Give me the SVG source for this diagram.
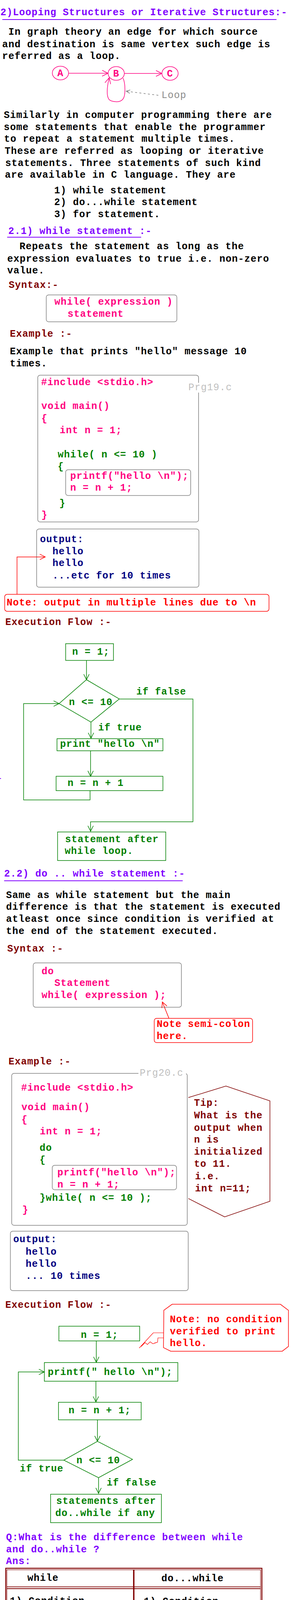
<svg xmlns="http://www.w3.org/2000/svg" width="759" height="7632" viewBox="0 0 759 7632">
<style>
text{font-family:"Liberation Mono","DejaVu Sans Mono",monospace;font-size:25px;letter-spacing:1px;font-weight:bold;white-space:pre}
.n{font-weight:normal}
.pu{fill:#8000ff}.pk{fill:#ff0080}.dr{fill:#800000}.gr{fill:#008000}.nv{fill:#000080}.bk{fill:#000}.rd{fill:#ff0000}.gy{fill:#8c8c8c}.lg{fill:#c0c0c0}.db{fill:#0b3b82}
.box{fill:none;stroke:#808080;stroke-width:1.5}
.lbox{fill:none;stroke:#c0c0c0;stroke-width:1.5}
.gbox{fill:none;stroke:#008000;stroke-width:1.5}
.rbox{fill:none;stroke:#ff0000;stroke-width:1.5}
.gl{fill:none;stroke:#008000;stroke-width:1.5}
.rl{fill:none;stroke:#ff0000;stroke-width:1.5}
.pl{fill:none;stroke:#ff0080;stroke-width:1.5}
.gyl{fill:none;stroke:#808080;stroke-width:1.5}
.ul{stroke:#8000ff;stroke-width:2}
.drl{fill:none;stroke:#800000}
</style>
<defs>
<marker id="ag" markerUnits="userSpaceOnUse" markerWidth="20" markerHeight="20" refX="14" refY="7" orient="auto" overflow="visible"><path d="M0,0 L14,7 L0,14" fill="none" stroke="#008000" stroke-width="1.5"/></marker>
<marker id="ar" markerUnits="userSpaceOnUse" markerWidth="20" markerHeight="20" refX="14" refY="7" orient="auto" overflow="visible"><path d="M0,0 L14,7 L0,14" fill="none" stroke="#ff0000" stroke-width="1.5"/></marker>
<marker id="ap" markerUnits="userSpaceOnUse" markerWidth="20" markerHeight="20" refX="15" refY="7.5" orient="auto" overflow="visible"><path d="M0,0 L15,7.5 L0,15" fill="none" stroke="#ff0080" stroke-width="1.5"/></marker>
<marker id="ay" markerUnits="userSpaceOnUse" markerWidth="20" markerHeight="20" refX="14" refY="7" orient="auto" overflow="visible"><path d="M0,0 L14,7 L0,14" fill="none" stroke="#808080" stroke-width="1.5"/></marker>
<marker id="ay2" markerUnits="userSpaceOnUse" markerWidth="14" markerHeight="14" refX="10" refY="4.5" orient="auto" overflow="visible"><path d="M0,0 L10,4.5 L0,9" fill="none" stroke="#808080" stroke-width="1.5"/></marker>
</defs>
<rect width="759" height="7632" fill="#fff"/>

<g id="intro">
<text x="1" y="39" class="pu">2)Looping Structures or Iterative Structures:-</text>
<line x1="6" y1="50" x2="709" y2="50" class="ul"/>
<text x="5.5" y="89" class="bk"> In graph theory an edge for which source</text>
<text x="5.5" y="120.5" class="bk">and destination is same vertex such edge is</text>
<text x="5.5" y="151" class="bk">referred as a loop.</text>
</g>

<g id="node-A"><ellipse cx="155" cy="187" rx="20.8" ry="17.5" class="pl"/><text x="155" y="195" class="pk" text-anchor="middle">A</text></g>
<g id="node-B"><ellipse cx="298" cy="188" rx="20.8" ry="17.5" class="pl"/><text x="298" y="196" class="pk" text-anchor="middle">B</text></g>
<g id="node-C"><ellipse cx="436" cy="188" rx="20.8" ry="17.5" class="pl"/><text x="436" y="196" class="pk" text-anchor="middle">C</text></g>
<g id="loop-label"><text x="414" y="251" class="gy n">Loop</text></g>

<g id="text-1">
<text x="9.7" y="302" class="bk">Similarly in computer programming there are</text>
<text x="9.7" y="333" class="bk">some statements that enable the programmer</text>
<text x="10.6" y="363" class="bk">to repeat a statement multiple times.</text>
<text x="12" y="394" class="bk">These<tspan dx="-7"> are referred as looping or iterative</tspan></text>
<text x="13.5" y="424.5" class="bk">statements. Three statements of such kind</text>
<text x="12.6" y="455" class="bk">are available in C language. They are</text>
<text x="139" y="494.7" class="bk">1) while statement</text>
<text x="139" y="525.3" class="bk">2) do...while statement</text>
<text x="139" y="556" class="bk">3) for statement.</text>
</g>

<g id="while-section">
<text x="21.3" y="599" class="pu">2.1) while statement :-</text>
<line x1="18.4" y1="607.3" x2="362" y2="607.3" class="ul"/>
<text x="50" y="637.6" class="bk">Repeats the statement as long as the</text>
<text x="18.4" y="669.8" class="bk">expression evaluates to true i.e. non-zero</text>
<text x="18.4" y="700.4" class="bk">value.</text>
<text x="22.3" y="737" class="dr">Syntax:-</text>
</g>
<g id="syntax-while">
<rect x="118.6" y="755" width="334.9" height="68.7" rx="6" class="box"/>
<text x="139.4" y="780" class="pk">while( expression )</text>
<text x="173.3" y="810.6" class="pk">statement</text>
</g>
<g id="example-while-text">
<text x="25.2" y="862.4" class="dr">Example :-</text>
<text x="25.2" y="907.3" class="bk">Example that prints "hello" message 10</text>
<text x="25.2" y="938" class="bk">times.</text>
</g>
<g id="code-prg19">
<rect x="96.8" y="960.4" width="412.4" height="375.9" rx="6" class="box"/>
<rect x="481" y="980" width="118" height="25" fill="#fff"/>
<text x="483" y="999.2" class="lg n">Prg19.c</text>
<text x="105.5" y="986" class="pk">#include &lt;stdio.h&gt;</text>
<text x="106" y="1047.3" class="pk">void main()</text>
<text x="106" y="1078.8" class="pk">{</text>
<text x="153" y="1109.4" class="pk">int n = 1;</text>
<text x="148" y="1170.6" class="gr">while( n &lt;= 10 )</text>
<text x="148" y="1202.4" class="gr">{</text>
<rect x="168.4" y="1202.4" width="320.5" height="66.2" rx="6" class="box"/>
<text x="180" y="1225.7" class="pk">printf("hello \n");</text>
<text x="180" y="1256.3" class="pk">n = n + 1;</text>
<text x="152" y="1295.5" class="gr">}</text>
<text x="106" y="1326" class="pk">}</text>
</g>
<g id="output-1">
<rect x="93.9" y="1354.3" width="416.1" height="149" rx="6" class="box"/>
<text x="102.6" y="1388.2" class="nv">output:</text>
<text x="134.6" y="1418.8" class="nv">hello</text>
<text x="134.6" y="1449.4" class="nv">hello</text>
<text x="134.6" y="1481.2" class="nv">...etc for 10 times</text>
</g>
<g id="note-1">
<rect x="12.1" y="1521.6" width="677.6" height="43.3" rx="6" class="rbox"/>
<text x="17" y="1550.2" class="rd">Note: output in multiple lines due to \n</text>
</g>
<g id="flow1-label"><text x="13.6" y="1599.6" class="dr">Execution Flow :-</text></g>
<g id="f1-init"><rect x="168.4" y="1647.8" width="122.5" height="42.8" class="gbox"/><text x="184.9" y="1675.9" class="gr">n = 1;</text></g>
<g id="f1-cond"><polygon points="221.7,1740 305.9,1789.4 233.3,1848.6 151.5,1801.2" class="gl"/><text x="176.7" y="1804.5" class="gr">n &lt;= 10</text></g>
<g id="f1-labels"><text x="349.5" y="1778" class="gr">if false</text><text x="251.7" y="1869.8" class="gr">if true</text></g>
<g id="f1-print"><rect x="146.2" y="1891" width="271.5" height="31" class="gbox"/><text x="154" y="1911.8" class="gr">print "hello \n"</text></g>
<g id="f1-inc"><rect x="143.8" y="1987.3" width="273.9" height="36.7" class="gbox"/><text x="173.3" y="2011.8" class="gr">n = n + 1</text></g>
<g id="f1-after"><rect x="147.6" y="2129.8" width="277.4" height="73.1" class="gbox"/><text x="167" y="2155.9" class="gr">statement after</text><text x="166" y="2186.1" class="gr">while loop.</text></g>

<g id="dowhile-section">
<text x="10.6" y="2243.7" class="pu">2.2) do .. while statement :-</text>
<line x1="10.6" y1="2254.7" x2="468.5" y2="2254.7" class="ul"/>
<text x="15.5" y="2298.8" class="bk">Same as while statement but the main</text>
<text x="15.5" y="2329.4" class="bk">difference is that the statement is executed</text>
<text x="15.5" y="2360" class="bk">atleast once since condition is verified at</text>
<text x="15.5" y="2391.4" class="bk">the end of the statement executed.</text>
<text x="18.4" y="2436.3" class="dr">Syntax :-</text>
</g>
<g id="syntax-dowhile">
<rect x="85.2" y="2464.9" width="380" height="113.5" rx="6" class="box"/>
<text x="106.5" y="2493.5" class="pk">do</text>
<text x="139.4" y="2524.1" class="pk">Statement</text>
<text x="106.5" y="2554.7" class="pk">while( expression );</text>
</g>
<g id="note-semicolon">
<rect x="395.5" y="2606.9" width="252.1" height="62.1" rx="6" class="rbox"/>
<text x="401.7" y="2629.4" class="rd">Note semi-colon</text>
<text x="401.7" y="2660" class="rd">here.</text>
</g>
<g id="example-dowhile"><text x="21.8" y="2725.3" class="dr">Example :-</text></g>
<g id="code-prg20">
<rect x="30" y="2747.8" width="450.2" height="388.9" rx="6" class="box"/>
<rect x="355" y="2736" width="122" height="24" fill="#fff"/>
<text x="358.2" y="2753.9" class="lg n">Prg20.c</text>
<text x="54.2" y="2791.8" class="pk">#include &lt;stdio.h&gt;</text>
<text x="55" y="2841.6" class="pk">void main()</text>
<text x="55" y="2873.5" class="pk">{</text>
<text x="102" y="2904.1" class="pk">int n = 1;</text>
<text x="101.5" y="2945.7" class="gr">do</text>
<text x="101.5" y="2977.1" class="gr">{</text>
<rect x="134" y="2983.3" width="318.6" height="62.4" rx="6" class="box"/>
<text x="147" y="3009" class="pk">printf("hello \n");</text>
<text x="147" y="3039.6" class="pk">n = n + 1;</text>
<text x="101.5" y="3073.5" class="gr">}while( n &lt;= 10 );</text>
<text x="57" y="3104.9" class="pk">}</text>
</g>
<g id="tip-1">
<polyline points="483,2809.8 579.4,2780.4 692.2,2818.4 692.2,3075.1 576,3115.1 483,3068.2" class="drl" stroke-width="1.5"/>
<text x="497.6" y="2831.4" class="dr">Tip:</text>
<text x="497.6" y="2863.3" class="dr">What is the</text>
<text x="497.6" y="2894.7" class="dr">output when</text>
<text x="497.6" y="2925.3" class="dr">n is</text>
<text x="497.6" y="2955.9" class="dr">initialized</text>
<text x="497.6" y="2986.5" class="dr">to 11.</text>
<text x="500" y="3019.2" class="dr">i.e.</text>
<text x="500" y="3049.8" class="dr">int n=11;</text>
</g>
<g id="output-2">
<rect x="26.6" y="3151.8" width="456" height="152.2" rx="6" class="box"/>
<text x="33.9" y="3180.4" class="nv">output:</text>
<text x="65.8" y="3212.3" class="nv">hello</text>
<text x="65.8" y="3242.9" class="nv">hello</text>
<text x="65.8" y="3273.5" class="nv">... 10 times</text>
</g>
<g id="flow2-label"><text x="13.6" y="3347.8" class="dr">Execution Flow :-</text></g>
<g id="note-2">
<polygon points="441.4,3338.8 718.8,3338.8 739.6,3354.3 739.6,3446.9 723.6,3459.2 438,3459.2 419.2,3449.8 420.1,3354.3" class="rbox"/>
<text x="435.6" y="3384.5" class="rd">Note: no condition</text>
<text x="435.6" y="3415.5" class="rd">verified to print</text>
<text x="435.6" y="3446.1" class="rd">hello.</text>
<path d="M419,3412 L393,3412 L357,3451 M419,3425 L405,3425 L404,3436 L396,3438 M404,3436 L392,3440 L385,3435 L378,3442 L372,3437 L362,3447" fill="none" stroke="#ff0000" stroke-width="1.2"/>
</g>
<g id="f2-init"><rect x="151" y="3395.1" width="207.2" height="37.6" class="gbox"/><text x="207.2" y="3424.5" class="gr">n = 1;</text></g>
<g id="f2-print"><rect x="113.7" y="3488.2" width="342.3" height="47.7" class="gbox"/><text x="122.5" y="3519.6" class="gr">printf(" hello \n");</text></g>
<g id="f2-inc"><rect x="150" y="3589.8" width="212" height="44.9" class="gbox"/><text x="175.7" y="3618.4" class="gr">n = n + 1;</text></g>
<g id="f2-cond"><polygon points="249.8,3689.8 339.8,3735.9 252.7,3782.9 163.6,3738" class="gl"/><text x="196" y="3746.1" class="gr">n &lt;= 10</text></g>
<g id="f2-labels"><text x="50.8" y="3766.5" class="gr">if true</text><text x="273.5" y="3803.3" class="gr">if false</text></g>
<g id="f2-after"><rect x="129.7" y="3825.3" width="284.1" height="72.7" class="gbox"/><text x="144.2" y="3850.2" class="gr">statements after</text><text x="141.8" y="3880.8" class="gr">do..while if any</text></g>

<g id="question">
<text x="15.5" y="3942.9" class="pu">Q:What is the difference between while</text>
<text x="15.5" y="3973.5" class="pu">and do..while ?</text>
<text x="15.5" y="4004.1" class="pu">Ans:</text>
</g>
<g id="table">
<rect x="14.8" y="4014.8" width="656.7" height="592.7" class="drl" stroke-width="2.5"/>
<rect x="17.6" y="4018.6" width="650.4" height="585" class="drl" stroke-width="1.2"/>
<line x1="17.6" y1="4062.4" x2="668" y2="4062.4" class="drl" stroke-width="1.8"/>
<line x1="17.6" y1="4067" x2="668" y2="4067" class="drl" stroke-width="1.8"/>
<line x1="343" y1="4018.6" x2="343" y2="4603.6" class="drl" stroke-width="3.5"/>
<text x="70.2" y="4047.3" class="bk">while</text>
<text x="413.8" y="4048.2" class="bk">do...while</text>
<text x="25.2" y="4106.1" class="bk">1) Condition</text>
<text x="25.2" y="4136.7" class="bk">verified at the</text>
<text x="25.2" y="4167.8" class="bk">beginning of the</text>
<text x="25.2" y="4199.2" class="bk">statement.</text>
<text x="25.2" y="4248.2" class="bk">2) Minimum no-of</text>
<text x="25.2" y="4278.8" class="bk">executions of</text>
<text x="25.2" y="4309.4" class="bk">while statement is</text>
<text x="25.2" y="4340.8" class="bk">zero or more.</text>
<text x="25.2" y="4442.9" class="bk">3) Since condition</text>
<text x="25.2" y="4473.5" class="bk">verified initially</text>
<text x="25.2" y="4505.3" class="bk">it is called entry</text>
<text x="25.2" y="4535.9" class="bk">control statement.</text>
<text x="368.8" y="4107.3" class="bk">1) Condition</text>
<text x="368.8" y="4138" class="bk">verified at the</text>
<text x="368.8" y="4168.6" class="bk">end of the</text>
<text x="368.8" y="4200" class="bk">statement.</text>
<text x="368.8" y="4249.4" class="bk">2) Minimum no-of</text>
<text x="368.8" y="4280" class="bk">executions of a</text>
<text x="368.8" y="4311.4" class="bk">do..while</text>
<text x="368.8" y="4342.9" class="bk">statement is one</text>
<text x="368.8" y="4373.9" class="bk">or more.</text>
<text x="371.7" y="4444.9" class="bk">3) Since condition</text>
<text x="368.8" y="4473.5" class="bk">is verified at the</text>
<text x="368.8" y="4506.5" class="bk">end it is called</text>
<text x="368.8" y="4537.1" class="bk">exit control</text>
<text x="368.8" y="4567.8" class="bk">statement.</text>
</g>

<g id="for-section">
<text x="12.1" y="4654.7" class="pu">2.3) for statement :-</text>
<line x1="8.7" y1="4665.7" x2="301" y2="4665.7" class="ul"/>
<text x="13.6" y="4705.3" class="bk">for statement too is used to repeat the</text>
<text x="13.6" y="4736.3" class="bk">statement more than once. But in for</text>
<text x="13.6" y="4766.9" class="bk">initialization, conditional expression</text>
<text x="13.6" y="4798.4" class="bk">and increment/decrement all can be</text>
<text x="13.6" y="4829" class="bk">written with in for itself which makes</text>
<text x="13.6" y="4860.4" class="bk">it more readable than while statement.</text>
<text x="13.6" y="4908.6" class="dr">Syntax :-</text>
</g>
<g id="syntax-for">
<rect x="43.6" y="4919.6" width="588.1" height="81.6" rx="6" class="lbox"/>
<text x="70.2" y="4957.6" class="pk">for( [expr1] ; [expr2] ; [expr3] )</text>
<text x="135.5" y="4988.2" class="pk">statement</text>
</g>
<g id="expr-text">
<text x="15.5" y="5045.3" class="bk"><tspan class="gr n">expr1</tspan> : this expression is evaluated</text>
<text x="15.5" y="5075.9" class="bk">initially before expr2 is evaluated.</text>
<text x="15.5" y="5107.3" class="bk">This is normally used to initialize the</text>
<text x="15.5" y="5137.1" class="bk">loop counter.</text>
<text x="17" y="5173.9" class="bk"><tspan class="gr n">expr2</tspan> : this represents conditional</text>
<text x="17" y="5204.9" class="bk">expression. As long as expr2 is true</text>
<text x="17" y="5235.5" class="bk">i.e. non-zero , execution of the</text>
<text x="17" y="5266.9" class="bk">statement is repeated.</text>
<text x="18.4" y="5306.9" class="bk"><tspan class="gr n">expr3</tspan> : this expression is evaluated</text>
<text x="18.4" y="5337.6" class="bk">each time after the execution of the</text>
<text x="18.4" y="5369" class="bk">statement. This is normally used to</text>
<text x="18.4" y="5399.6" class="bk">increment or decrement the loop</text>
<text x="18.4" y="5431" class="bk">counter.</text>
<text x="17" y="5486.1" class="dr">Syntax simplified :-</text>
</g>
<g id="syntax-for-simple">
<rect x="17.9" y="5507.8" width="680.1" height="97.9" rx="6" class="lbox"/>
<text x="26.6" y="5542.4" class="pk">for(initialization ;condition ;increment )</text>
<text x="107.5" y="5583.3" class="pk">Statement</text>
</g>
<g id="example-for"><text x="18.4" y="5650.6" class="dr">Example :-</text></g>
<g id="code-prg21">
<rect x="17" y="5660.8" width="635" height="387.8" rx="6" class="box"/>
<rect x="462" y="5647" width="134" height="26" fill="#fff"/>
<text x="468.5" y="5664.9" class="lg n">Prg21.c</text>
<text x="32.9" y="5692.2" class="pk">#include &lt;stdio.h&gt;</text>
<text x="33.9" y="5754.7" class="pk">void main()</text>
<text x="34" y="5785.3" class="pk">{</text>
<text x="80.5" y="5816.3" class="pk">int n;</text>
<rect x="75" y="5842.9" width="552.8" height="146.5" rx="6" class="box"/>
<text x="80.8" y="5877.1" class="gr">for( n = 1 ; n &lt;= 10 ; n = n + 1 )</text>
<text x="81" y="5907.8" class="gr">{</text>
<text x="128.3" y="5940.8" class="pk">printf("hello \n");</text>
<text x="83" y="5972.2" class="gr">}</text>
<text x="34" y="6017.1" class="pk">}</text>
</g>
<g id="observe-notes">
<text x="31.5" y="6138.8" class="nv">* Observe all three i.e. initialization,</text>
<text x="30" y="6169.4" class="nv">condition and increment all are inside</text>
<text x="30" y="6200.8" class="nv">for itself.</text>
<text x="31.5" y="6262.9" class="nv">* Since there is only one statement</text>
<text x="30" y="6293.5" class="nv">under for i.e. print("hello \n"); there</text>
<text x="30" y="6324.5" class="nv">is no need for braces.</text>
<text x="32.9" y="6365.3" class="nv">i.e.</text>
<text x="75" y="6397.6" class="pk">for( n = 1 ; n &lt;= 10 ; n = n + 1 )</text>
<text x="122.5" y="6428.6" class="pk">printf(" hello \n");</text>
</g>
<g id="above-loop">
<text x="37.8" y="6483.7" class="nv">* In the above for loop</text>
<polygon points="85.2,6500 96.8,6507.6 85.2,6515.1" fill="#800000"/>
<text x="129.7" y="6515.1" class="nv"><tspan class="pk">n = 1</tspan> is executed once before</text>
<line x1="273.5" y1="6520.4" x2="482.6" y2="6520.4" stroke="#000" stroke-width="1.5"/>
<text x="32.9" y="6545.7" class="nv">proceeding with condition.</text>
<polygon points="85.2,6561.2 96.8,6568.8 85.2,6576.3" fill="#800000"/>
<text x="128.3" y="6576.3" class="nv"><tspan class="pk">n &lt;= 10</tspan> is the condition which</text>
<text x="32.9" y="6607.3" class="nv">must be true(1) inorder to proceed with</text>
<line x1="32.9" y1="6613" x2="577" y2="6613" stroke="#000" stroke-width="1.5"/>
<text x="33.9" y="6638.8" class="nv">statement execution.</text>
<polygon points="85.8,6653.9 97.4,6661.6 85.8,6669.4" fill="#800000"/>
<text x="131.7" y="6669.4" class="nv"><tspan class="pk">n = n + 1</tspan> is executed after</text>
<text x="32.9" y="6700.8" class="nv">executing the statement.</text>
<text x="37.8" y="6749.8" class="nv">* Flow is same as that of while loop.</text>
</g>
<g id="note-3">
<text x="10.6" y="6802" class="rd">Note: both for and while come under entry</text>
<text x="10.6" y="6832.7" class="rd">control statements and do..while under</text>
<text x="10.6" y="6864.1" class="rd">exit control statement.</text>
</g>
<g id="tip-2">
<text x="17" y="6923.7" class="gr">Tip:-</text>
<text x="19.4" y="6973.5" class="db">All three expressions in for are</text>
<text x="19.4" y="7004.9" class="db">optional. If expr2 is ignored it is</text>
<text x="19.4" y="7035.5" class="db">treated as true</text>
<text x="19.4" y="7067.2" class="db">e.g.</text>
<text x="302.5" y="7067.2" class="gy n">no condition =&gt; true</text>
</g>
<g id="code-infinite">
<rect x="98.3" y="7076.6" width="335.9" height="76.6" rx="6" class="box"/>
<text x="104" y="7102.3" class="pk">for( ; ; )</text>
<text x="134.6" y="7132.5" class="pk">printf(" hello ");</text>
</g>
<g id="tip-2-end">
<text x="19.4" y="7191" class="db">prints hello infinite times. There are</text>
<text x="19.4" y="7221.9" class="db">other statements such as break etc<tspan dx="-3">.</tspan><tspan dx="-10"> to</tspan></text>
<text x="19.4" y="7253.2" class="db">terminate the loop.</text>
</g>
<g id="note-4">
<line x1="3.9" y1="7267.2" x2="757.5" y2="7267.2" stroke="#ff0000" stroke-width="1.5"/>
<text x="17" y="7302.3" class="rd">Note:</text>
<text x="49.4" y="7333.6" class="rd">Ignoring condition is valid only in for</text>
<text x="18.4" y="7364.5" class="rd">loop and not in while or do..while.</text>
<text x="34.8" y="7395.5" class="rd">i.e.</text>
<text x="131.7" y="7416.2" class="rd">while()</text>
<text x="163.6" y="7447.5" class="rd">printf("hello");</text>
<line x1="170.4" y1="7392.1" x2="279.3" y2="7460.8" stroke="#ff0000" stroke-width="1"/>
<line x1="3.9" y1="7490.2" x2="757.5" y2="7490.2" stroke="#ff0000" stroke-width="1.5"/>
</g>
<g id="footer"><text x="4.8" y="7582.3" class="lg n">next examples for loops</text></g>

<g id="connectors">
<line x1="175.8" y1="187.5" x2="277" y2="187.5" class="pl" marker-end="url(#ap)"/>
<line x1="319" y1="188" x2="415" y2="188" class="pl" marker-end="url(#ap)"/>
<path d="M315.6,200 C322,215 322,245 315.6,253 C312,259 303,261 297.7,260.4 C288,260 280,257 278,252 C272,240 276,215 280,199" class="pl" marker-end="url(#ap)"/>
<line x1="406" y1="244" x2="323.5" y2="233.5" class="gyl" stroke-dasharray="5,6" marker-end="url(#ay2)"/>
<line x1="0" y1="1993" x2="2.5" y2="1993" class="ul"/>
<polyline points="43.6,1521.6 43.6,1425.7 116,1425.7" class="rl" marker-end="url(#ar)"/>
<line x1="221.7" y1="1690.6" x2="221.7" y2="1740" class="gl" marker-end="url(#ag)"/>
<polyline points="305.9,1789.4 494.7,1789.4 494.7,2103.7 232.3,2103.7 232.3,2128" class="gl" marker-end="url(#ag)"/>
<line x1="233.3" y1="1848.6" x2="233.3" y2="1890" class="gl" marker-end="url(#ag)"/>
<line x1="232.3" y1="1922" x2="232.3" y2="1987.3" class="gl" marker-end="url(#ag)"/>
<polyline points="230.9,2024 230.9,2047.8 60.5,2047.8 60.5,1801.2 151.5,1801.2" class="gl" marker-end="url(#ag)"/>
<line x1="433.2" y1="2606.9" x2="416.3" y2="2565" class="rl" marker-end="url(#ar)"/>
<line x1="246.9" y1="3432.7" x2="246.9" y2="3487.5" class="gl" marker-end="url(#ag)"/>
<line x1="245.9" y1="3535.9" x2="245.9" y2="3589" class="gl" marker-end="url(#ag)"/>
<line x1="249.8" y1="3634.7" x2="249.8" y2="3689.8" class="gl" marker-end="url(#ag)"/>
<polyline points="163.6,3738 47,3738 47,3512.2 113.7,3512.2" class="gl" marker-end="url(#ag)"/>
<line x1="252.7" y1="3782.9" x2="252.7" y2="3823" class="gl" marker-end="url(#ag)"/>
<polyline points="287,6115.1 287,6099.6 666.5,6099.6 666.5,5927.3 628,5927.3" class="gyl" marker-end="url(#ay)"/>
<path d="M70,6382 C58,6392 36,6404 38,6414 C40,6420 60,6421 118,6421" class="pl" marker-end="url(#ap)"/>
<polyline points="291.9,7059.6 208.1,7059.6 208.1,7075" class="gyl" marker-end="url(#ay2)"/>
<line x1="0" y1="7045.5" x2="3" y2="7045.5" stroke="#ff0000" stroke-width="1.5"/>
</g>
</svg>
